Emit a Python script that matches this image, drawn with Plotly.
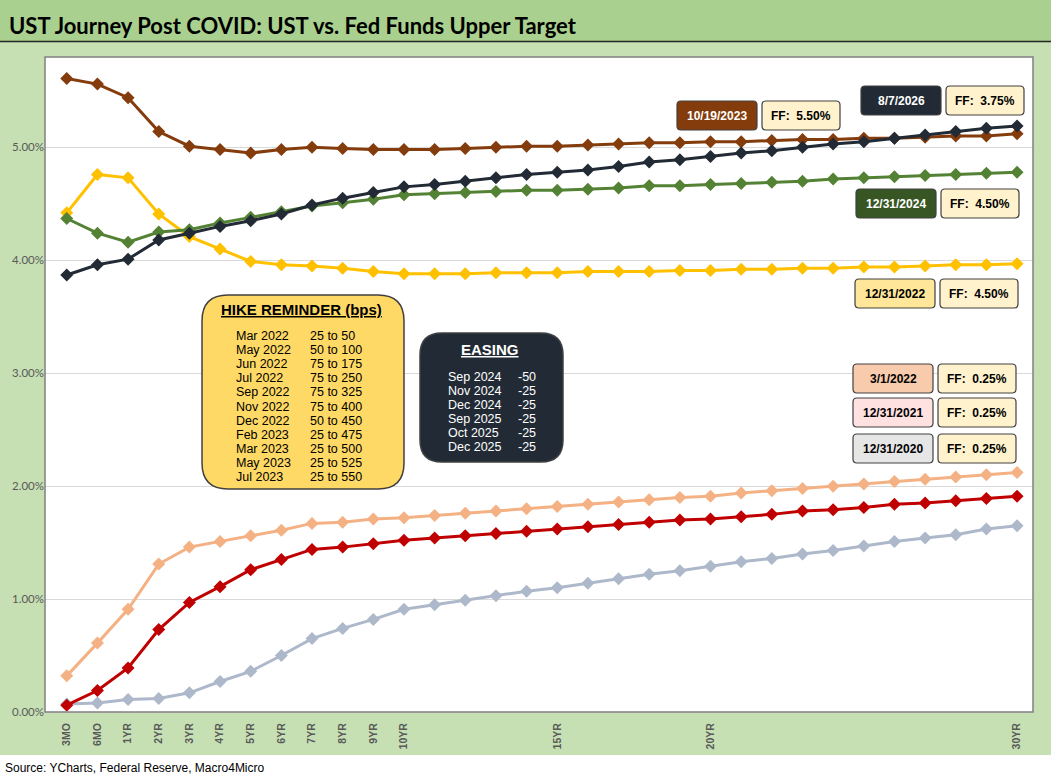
import plotly.graph_objects as go

# tenors on the x axis (only some are labelled)
tenors = ["3MO", "6MO", "1YR"] + [f"{n}YR" for n in range(2, 31)]
tick_labels = ["3MO", "6MO", "1YR", "2YR", "3YR", "4YR", "5YR", "6YR", "7YR",
               "8YR", "9YR", "10YR", "15YR", "20YR", "30YR"]
y_ticks = [0, 1, 2, 3, 4, 5]

# UST curves (%)
ust_2020_12_31 = [0.07, 0.08, 0.11, 0.12, 0.17, 0.27, 0.36, 0.50, 0.65, 0.74, 0.82, 0.91,
                  0.95, 0.99, 1.03, 1.07, 1.10, 1.14, 1.18, 1.22, 1.25, 1.29, 1.33, 1.36,
                  1.40, 1.43, 1.47, 1.51, 1.54, 1.57, 1.62, 1.65]
ust_2021_12_31 = [0.06, 0.19, 0.39, 0.73, 0.97, 1.11, 1.26, 1.35, 1.44, 1.46, 1.49, 1.52,
                  1.54, 1.56, 1.58, 1.60, 1.62, 1.64, 1.66, 1.68, 1.70, 1.71, 1.73, 1.75,
                  1.78, 1.79, 1.81, 1.84, 1.85, 1.87, 1.89, 1.91]
ust_2022_03_01 = [0.32, 0.61, 0.91, 1.31, 1.46, 1.51, 1.56, 1.61, 1.67, 1.68, 1.71, 1.72,
                  1.74, 1.76, 1.78, 1.80, 1.82, 1.84, 1.86, 1.88, 1.90, 1.91, 1.94, 1.96,
                  1.98, 2.00, 2.02, 2.04, 2.06, 2.08, 2.10, 2.12]
ust_2022_12_31 = [4.42, 4.76, 4.73, 4.41, 4.21, 4.10, 3.99, 3.96, 3.95, 3.93, 3.90, 3.88,
                  3.88, 3.88, 3.89, 3.89, 3.89, 3.90, 3.90, 3.90, 3.91, 3.91, 3.92, 3.92,
                  3.93, 3.93, 3.94, 3.94, 3.95, 3.96, 3.96, 3.97]
ust_2023_10_19 = [5.61, 5.56, 5.44, 5.14, 5.01, 4.98, 4.95, 4.98, 5.00, 4.99, 4.98, 4.98,
                  4.98, 4.99, 5.00, 5.01, 5.01, 5.02, 5.03, 5.04, 5.04, 5.05, 5.05, 5.06,
                  5.07, 5.07, 5.08, 5.08, 5.09, 5.10, 5.10, 5.12]
ust_2024_12_31 = [4.37, 4.24, 4.16, 4.25, 4.27, 4.33, 4.38, 4.43, 4.48, 4.51, 4.54, 4.58,
                  4.59, 4.60, 4.61, 4.62, 4.62, 4.63, 4.64, 4.66, 4.66, 4.67, 4.68, 4.69,
                  4.70, 4.72, 4.73, 4.74, 4.75, 4.76, 4.77, 4.78]
ust_2026_08_07 = [3.87, 3.96, 4.01, 4.18, 4.24, 4.30, 4.35, 4.41, 4.49, 4.55, 4.60, 4.65,
                  4.67, 4.70, 4.73, 4.76, 4.78, 4.80, 4.83, 4.87, 4.89, 4.92, 4.95, 4.97,
                  5.00, 5.03, 5.05, 5.08, 5.11, 5.14, 5.17, 5.19]

series = [
    ("12/31/2020", ust_2020_12_31, "#ADB9CA"),
    ("12/31/2021", ust_2021_12_31, "#C00000"),
    ("3/1/2022", ust_2022_03_01, "#F4B183"),
    ("12/31/2022", ust_2022_12_31, "#FFC000"),
    ("10/19/2023", ust_2023_10_19, "#843C0C"),
    ("12/31/2024", ust_2024_12_31, "#548235"),
    ("8/7/2026", ust_2026_08_07, "#222B35"),
]

# label boxes: date, fed funds upper target
box_dates = ["10/19/2023", "8/7/2026", "12/31/2024", "12/31/2022", "3/1/2022", "12/31/2021", "12/31/2020"]
box_ff = ["5.50%", "3.75%", "4.50%", "4.50%", "0.25%", "0.25%", "0.25%"]
box_fill = ["#843C0C", "#222B35", "#375623", "#FFE699", "#F8CBAD", "#FFE1E1", "#E7E6E6"]
box_font = ["white", "white", "white", "black", "black", "black", "black"]
# pixel positions of the date box (x0, y0) on the page
box_pos = [(677, 101), (861, 86), (856, 189), (855, 279), (853, 364), (853, 398), (853, 434)]

hike_months = ["Mar 2022", "May 2022", "Jun 2022", "Jul 2022", "Sep 2022", "Nov 2022",
               "Dec 2022", "Feb 2023", "Mar 2023", "May 2023", "Jul 2023"]
hike_moves = ["25 to 50", "50 to 100", "75 to 175", "75 to 250", "75 to 325", "75 to 400",
              "50 to 450", "25 to 475", "25 to 500", "25 to 525", "25 to 550"]
ease_months = ["Sep 2024", "Nov 2024", "Dec 2024", "Sep 2025", "Oct 2025", "Dec 2025"]
ease_moves = ["-50", "-25", "-25", "-25", "-25", "-25"]

W, H = 1051, 784
L, R, T, B = 45, 1033, 57, 712


def px(x):
    return (x - L) / (R - L)


def py(y):
    return (B - y) / (B - T)


def rbox(x0, y0, x1, y1, r, fill, line="#404040", lw=1.2):
    pts = [("M", x0 + r, y0), ("L", x1 - r, y0), ("Q", x1, y0, x1, y0 + r),
           ("L", x1, y1 - r), ("Q", x1, y1, x1 - r, y1), ("L", x0 + r, y1),
           ("Q", x0, y1, x0, y1 - r), ("L", x0, y0 + r), ("Q", x0, y0, x0 + r, y0)]
    path = ""
    for p in pts:
        cmd, vals = p[0], p[1:]
        coords = []
        for i in range(0, len(vals), 2):
            coords.append(f"{px(vals[i]):.5f},{py(vals[i + 1]):.5f}")
        path += cmd + " " + " ".join(coords) + " "
    return dict(type="path", path=path + "Z", xref="paper", yref="paper",
                fillcolor=fill, line=dict(color=line, width=lw), layer="above")


def rect(x0, y0, x1, y1, fill, line_w=0, line_c=None, layer="below"):
    return dict(type="rect", xref="paper", yref="paper", x0=px(x0), x1=px(x1),
                y0=py(y1), y1=py(y0), fillcolor=fill, layer=layer,
                line=dict(width=line_w, color=line_c or fill))


def text(x, y, s, size=12, color="black", xanchor="center", bold=False, family="Liberation Sans"):
    return dict(x=px(x), y=py(y), xref="paper", yref="paper", text=f"<b>{s}</b>" if bold else s,
                showarrow=False, xanchor=xanchor, yanchor="middle",
                font=dict(size=size, color=color, family=family))


fig = go.Figure()
for name, vals, col in series:
    fig.add_trace(go.Scatter(x=tenors, y=vals, name=name, mode="lines+markers",
                             line=dict(color=col, width=3),
                             marker=dict(symbol="diamond", size=10, color=col)))

shapes = [
    rect(0, 42, W, 755, "#C6E0B4"),
    rect(L, T, R, B, "white"),
    rect(0, 0, W, 41, "#A9D08E"),
    dict(type="line", xref="paper", yref="paper", x0=px(0), x1=px(W), y0=py(41.5), y1=py(41.5),
         line=dict(color="#262626", width=1.5), layer="below"),
    rect(L, T, R, B, "rgba(0,0,0,0)", line_w=1.5, line_c="#808080", layer="above"),
]
annotations = [
    text(7, 25, "UST Journey Post COVID: UST vs. Fed Funds Upper Target", size=22,
         xanchor="left", bold=True, family="Lato"),
    text(3, 768, "Source: YCharts, Federal Reserve, Macro4Micro", size=12, xanchor="left"),
]

for d, ff, fc, tc, (bx, by) in zip(box_dates, box_ff, box_fill, box_font, box_pos):
    shapes.append(rbox(bx, by, bx + 80, by + 29, 4, fc))
    shapes.append(rbox(bx + 85, by, bx + 163, by + 29, 4, "#FFF2CC"))
    annotations.append(text(bx + 40, by + 15, d, size=12, color=tc, bold=True))
    annotations.append(text(bx + 124, by + 15, "FF:  " + ff, size=12, bold=True))

# hike reminder box
shapes.append(rbox(202, 295, 404, 489, 26, "#FFD966", line="#404040", lw=1.5))
annotations.append(text(301, 309, "<u>HIKE REMINDER (bps)</u>", size=15, bold=True))
for i, (m, v) in enumerate(zip(hike_months, hike_moves)):
    yy = 336 + i * 14.1
    annotations.append(text(234, yy, m, size=12.5, xanchor="left"))
    annotations.append(text(308, yy, v, size=12.5, xanchor="left"))

# easing box
shapes.append(rbox(420, 333, 563, 462, 22, "#222B35", line="#404040", lw=1.5))
annotations.append(text(490, 350, "<u>EASING</u>", size=15, color="white", bold=True))
for i, (m, v) in enumerate(zip(ease_months, ease_moves)):
    yy = 377 + i * 14
    annotations.append(text(446, yy, m, size=12.5, color="white", xanchor="left"))
    annotations.append(text(538, yy, v, size=12.5, color="white", xanchor="right"))

fig.update_layout(
    width=W, height=H, template="none",
    margin=dict(l=L, r=W - R, t=T, b=H - B, pad=0),
    paper_bgcolor="white", plot_bgcolor="white",
    showlegend=False, shapes=shapes, annotations=annotations,
    font=dict(family="Liberation Sans", color="#595959"),
)
fig.update_xaxes(type="category", range=[-0.71, 31.52], automargin=False,
                 tickmode="array", tickvals=tick_labels,
                 ticktext=[f"<b>{t}</b>" for t in tick_labels],
                 tickangle=-90, tickfont=dict(size=10.5, color="#595959"),
                 ticklabelstandoff=6,
                 showgrid=False, showline=True, linecolor="#D9D9D9", ticks="", zeroline=False)
fig.update_yaxes(range=[0, 5.8], automargin=False, tickmode="array", tickvals=y_ticks,
                 ticktext=[f"{v:.2f}%" for v in y_ticks],
                 tickfont=dict(size=11.5, color="#595959", family="Lato"),
                 showgrid=True, gridcolor="#D9D9D9", gridwidth=1, zeroline=False,
                 showline=False, ticks="")

# page body has a default 8px margin; drop it so the figure fills the window
fig.write_html("out.html", config={"displayModeBar": False},
               post_script="document.body.style.margin='0';document.body.style.overflow='hidden';")
